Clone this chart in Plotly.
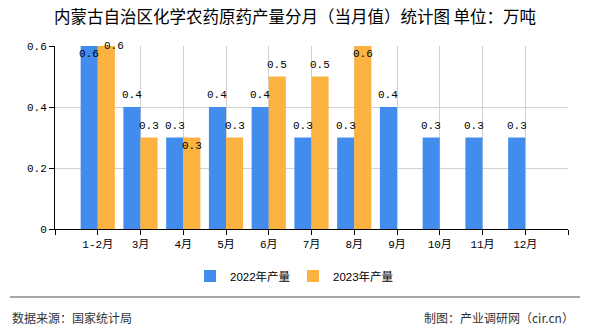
import plotly.graph_objects as go

categories = ["1-2月", "3月", "4月", "5月", "6月", "7月", "8月", "9月", "10月", "11月", "12月"]
values_2022 = [0.6, 0.4, 0.3, 0.4, 0.4, 0.3, 0.3, 0.4, 0.3, 0.3, 0.3]
values_2023 = [0.6, 0.3, 0.3, 0.3, 0.5, 0.5, 0.6, None, None, None, None]
series_names = ["2022年产量", "2023年产量"]
y_ticks = [0, 0.2, 0.4, 0.6]
y_tick_labels = ["0", "0.2", "0.4", "0.6"]

x_pos = list(range(1, len(categories) + 1))

BLUE = "#428CEE"
ORANGE = "#FBB241"
MONO = "'Liberation Mono', 'Noto Sans CJK SC', monospace"
CJK = "'Noto Sans CJK SC', sans-serif"
SANS = "'Liberation Sans', 'Noto Sans CJK SC', sans-serif"

# label placement style (series index, category index) -> mode
label_mode = {(0, 0): "in", (1, 0): "edge", (1, 2): "in", (1, 6): "in"}

fig = go.Figure()
for name, vals, col in [(series_names[0], values_2022, BLUE), (series_names[1], values_2023, ORANGE)]:
    fig.add_trace(go.Bar(x=x_pos, y=vals, name=name, marker_color=col,
                         marker_line_width=0, hoverinfo="x+y"))

annotations = []
for si, vals in enumerate([values_2022, values_2023]):
    off = -0.2 if si == 0 else 0.2
    for ci, v in enumerate(vals):
        if v is None:
            continue
        mode = label_mode.get((si, ci), "out")
        yshift = {"out": 12, "in": -8, "edge": 0}[mode]
        xshift = 8 if mode == "edge" else 0
        annotations.append(dict(x=x_pos[ci] + off, y=v, xref="x", yref="y",
                                text=f"{v:g}", showarrow=False,
                                xanchor="center", yanchor="middle",
                                yshift=yshift, xshift=xshift,
                                font=dict(family=MONO, size=11, color="#000")))

annotations += [
    dict(text="数据来源：国家统计局", xref="paper", yref="paper",
         x=(10 - 55) / 513, y=-(317 - 229) / 183, xanchor="left", yanchor="middle",
         showarrow=False, font=dict(family=CJK, size=12, color="#333")),
    dict(text="制图：产业调研网（cir.cn）", xref="paper", yref="paper",
         x=(576 - 55) / 513, y=-(317 - 229) / 183, xanchor="right", yanchor="middle",
         showarrow=False, font=dict(family=CJK, size=12, color="#333")),
]

fig.update_layout(
    width=590, height=330,
    margin=dict(l=55, r=22, t=46, b=101),
    paper_bgcolor="white", plot_bgcolor="white",
    barmode="group", bargap=0.2, bargroupgap=0,
    title=dict(text="内蒙古自治区化学农药原药产量分月（当月值）统计图 单位：万吨",
               x=0.5, xanchor="center", y=0.948, yanchor="middle",
               font=dict(family=CJK, size=16.5, color="#000")),
    legend=dict(orientation="h", x=(293 - 55) / 513, xanchor="center", y=-(276 - 229) / 183, yanchor="middle",
                font=dict(family=SANS, size=11.5, color="#000"),
                itemwidth=30, traceorder="normal", entrywidth=58),
    xaxis=dict(
        range=[0, 12],
        tickvals=list(range(0, 13)),
        ticktext=[""] + categories + [""],
        showgrid=True, gridcolor="#d0d0d0", gridwidth=1,
        showline=True, linecolor="#000", linewidth=1,
        ticks="outside", ticklen=5, tickcolor="#000",
        tickfont=dict(family=MONO, size=11, color="#000"),
        zeroline=False,
    ),
    yaxis=dict(
        range=[0, 0.6],
        tickvals=y_ticks, ticktext=y_tick_labels,
        showgrid=True, gridcolor="#d0d0d0", gridwidth=1,
        showline=True, linecolor="#000", linewidth=1,
        ticks="outside", ticklen=5, tickcolor="#000",
        tickfont=dict(family=MONO, size=11, color="#000"),
        zeroline=False,
    ),
    shapes=[dict(type="line", xref="paper", yref="paper",
                 x0=(10 - 55) / 513, x1=(580 - 55) / 513,
                 y0=-(297 - 229) / 183, y1=-(297 - 229) / 183,
                 line=dict(color="#888", width=1.5))],
    annotations=annotations,
)

fig.write_html("out.html")
